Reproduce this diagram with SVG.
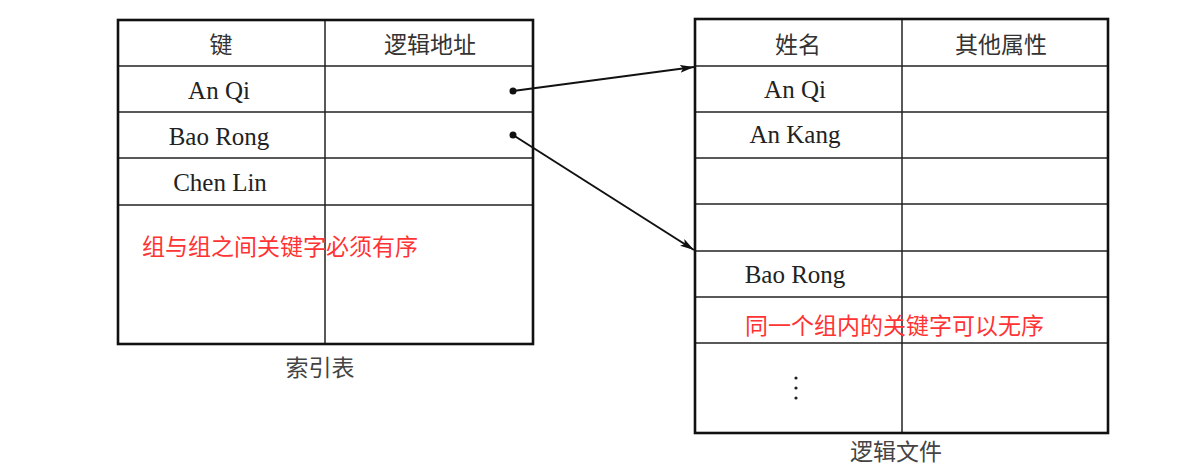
<svg xmlns="http://www.w3.org/2000/svg" width="1177" height="475" viewBox="0 0 1177 475">
<style>
.grid{stroke:#222;stroke-width:1.5;fill:none}
.frame{stroke:#111;stroke-width:2.6;fill:none}
.en{font-family:"Liberation Serif","Times New Roman",serif;font-size:25px;fill:#222;text-anchor:middle}
.cn{font-family:"Noto Sans CJK SC",sans-serif;font-size:23px;fill:#333;text-anchor:middle}
.cap{font-family:"Noto Sans CJK SC",sans-serif;font-size:23px;fill:#444;text-anchor:middle}
.red{font-family:"Noto Sans CJK SC",sans-serif;font-size:23px;fill:#ff3333}
.conn{stroke:#111;stroke-width:2;fill:none}
</style>
<defs>
<marker id="arr" viewBox="0 0 14 8" refX="14" refY="4" markerWidth="14" markerHeight="8" markerUnits="userSpaceOnUse" orient="auto">
<path d="M0,0 L14,4 L0,8 L3,4 Z" fill="#111"/>
</marker>
</defs>
<rect width="1177" height="475" fill="#fff"/>
<g id="index-table">
<line class="grid" x1="118" y1="66" x2="533" y2="66"/>
<line class="grid" x1="118" y1="112" x2="533" y2="112"/>
<line class="grid" x1="118" y1="158" x2="533" y2="158"/>
<line class="grid" x1="118" y1="205" x2="533" y2="205"/>
<line class="grid" x1="325" y1="20" x2="325" y2="344"/>
<rect class="frame" x="118" y="20" width="415" height="324"/>
<text class="cn" x="221" y="53">键</text>
<text class="cn" x="430" y="53">逻辑地址</text>
<text class="en" x="219" y="99">An Qi</text>
<text class="en" x="219" y="145">Bao Rong</text>
<text class="en" x="220" y="191">Chen Lin</text>
<text class="cap" x="320" y="376">索引表</text>
</g>
<g id="logic-file">
<line class="grid" x1="695" y1="66" x2="1108" y2="66"/>
<line class="grid" x1="695" y1="112" x2="1108" y2="112"/>
<line class="grid" x1="695" y1="158" x2="1108" y2="158"/>
<line class="grid" x1="695" y1="204" x2="1108" y2="204"/>
<line class="grid" x1="695" y1="251" x2="1108" y2="251"/>
<line class="grid" x1="695" y1="297" x2="1108" y2="297"/>
<line class="grid" x1="695" y1="343" x2="1108" y2="343"/>
<line class="grid" x1="902" y1="19" x2="902" y2="433"/>
<rect class="frame" x="695" y="19" width="413" height="414"/>
<text class="cn" x="798" y="53">姓名</text>
<text class="cn" x="1001" y="53">其他属性</text>
<text class="en" x="795" y="98">An Qi</text>
<text class="en" x="795" y="143">An Kang</text>
<text class="en" x="795" y="283">Bao Rong</text>
<circle cx="796" cy="378" r="1.6" fill="#222"/>
<circle cx="796" cy="388" r="1.6" fill="#222"/>
<circle cx="796" cy="398" r="1.6" fill="#222"/>
<text class="cap" x="896" y="460">逻辑文件</text>
</g>
<g id="connectors">
<circle cx="513" cy="91" r="3.5" fill="#111"/>
<circle cx="513" cy="135" r="3.5" fill="#111"/>
<line class="conn" x1="513" y1="91" x2="694" y2="67" marker-end="url(#arr)"/>
<line class="conn" x1="513" y1="135" x2="694" y2="250" marker-end="url(#arr)"/>
</g>
<g id="notes">
<text class="red" x="142" y="255">组与组之间关键字必须有序</text>
<text class="red" x="745" y="334">同一个组内的关键字可以无序</text>
</g>
</svg>
